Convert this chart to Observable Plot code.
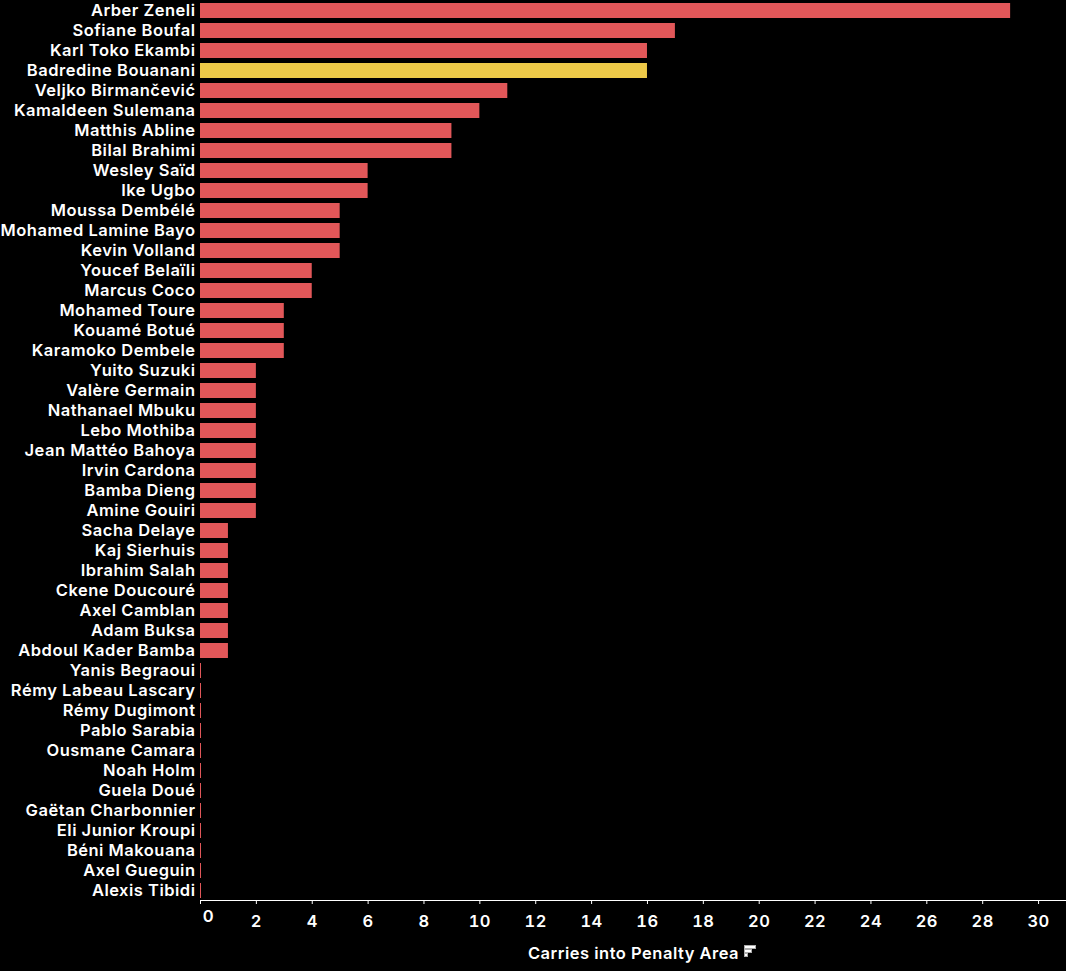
<!DOCTYPE html>
<html>
<head>
<meta charset="utf-8">
<script src="https://cdn.jsdelivr.net/npm/d3@7"></script>
<script src="https://cdn.jsdelivr.net/npm/@observablehq/plot@0.6"></script>
<style>
html,body{margin:0;padding:0;background:#000;}
#chart{position:relative;width:1066px;height:971px;overflow:hidden;}
svg{display:block;}
svg text{letter-spacing:0.5px;}
.sort{position:absolute;left:744px;top:945px;width:12px;}
.sort i{display:block;box-sizing:border-box;height:4px;border:1px solid #aaa;margin-bottom:0;background:#fff;}
</style>
</head>
<body>
<div id="chart"></div>
<script>
const players = ["Arber Zeneli","Sofiane Boufal","Karl Toko Ekambi","Badredine Bouanani","Veljko Birmančević","Kamaldeen Sulemana","Matthis Abline","Bilal Brahimi","Wesley Saïd","Ike Ugbo","Moussa Dembélé","Mohamed Lamine Bayo","Kevin Volland","Youcef Belaïli","Marcus Coco","Mohamed Toure","Kouamé Botué","Karamoko Dembele","Yuito Suzuki","Valère Germain","Nathanael Mbuku","Lebo Mothiba","Jean Mattéo Bahoya","Irvin Cardona","Bamba Dieng","Amine Gouiri","Sacha Delaye","Kaj Sierhuis","Ibrahim Salah","Ckene Doucouré","Axel Camblan","Adam Buksa","Abdoul Kader Bamba","Yanis Begraoui","Rémy Labeau Lascary","Rémy Dugimont","Pablo Sarabia","Ousmane Camara","Noah Holm","Guela Doué","Gaëtan Charbonnier","Eli Junior Kroupi","Béni Makouana","Axel Gueguin","Alexis Tibidi"];
const carries = [29,17,16,16,11,10,9,9,6,6,5,5,5,4,4,3,3,3,2,2,2,2,2,2,2,2,1,1,1,1,1,1,1,0,0,0,0,0,0,0,0,0,0,0,0];
const highlighted = "Badredine Bouanani";
const xTicks = [0,2,4,6,8,10,12,14,16,18,20,22,24,26,28,30];
const xLabel = "Carries into Penalty Area";
const RED = "#e15759", YELLOW = "#edc948";
const FONT = "Inter, sans-serif";
const SIZE = 16.5;

const rows = players.map((name,i)=>({name, value:carries[i]}));
const colorOf = d => d.name===highlighted ? YELLOW : RED;

const plot = Plot.plot({
  width:1066, height:971,
  marginLeft:200, marginRight:0, marginTop:0, marginBottom:71,
  style:{background:"#000", color:"#fff", fontFamily:FONT},
  x:{domain:[0,31], range:[200,1066]},
  y:{domain:players, range:[0.5,900.5], paddingInner:0.25, paddingOuter:0.125},
  marks:[
    Plot.barX(rows.filter(d=>d.value>0),{x1:0,x2:"value",y:"name",fill:colorOf}),
    Plot.tickX(rows.filter(d=>d.value===0),{x:"value",y:"name",stroke:RED,strokeWidth:1}),
    Plot.axisY({tickSize:0,tickPadding:5,label:null,fill:"#fff",fontSize:SIZE,fontWeight:600}),
    Plot.axisX({ticks:xTicks,tickSize:4,tickPadding:11,stroke:"#fff",fill:"#fff",fontSize:SIZE,fontWeight:600,label:null,anchor:"bottom",tickFormat:d=>d===0?"":d}),
    Plot.text([0],{x:d=>d,frameAnchor:"bottom",dx:8,dy:21,text:d=>String(d),fill:"#fff",fontSize:SIZE,fontWeight:600}),
    Plot.frame({anchor:"bottom",stroke:"#fff"}),
    Plot.text([xLabel],{frameAnchor:"bottom",dy:58,text:d=>d,fill:"#fff",fontSize:SIZE,fontWeight:600})
  ]
});
const holder = document.getElementById("chart");
holder.appendChild(plot);
const icon = document.createElement("div");
icon.className="sort";
icon.innerHTML="<i></i><i style='width:8px'></i><i style='width:4px'></i>";
holder.appendChild(icon);
</script>
</body>
</html>
